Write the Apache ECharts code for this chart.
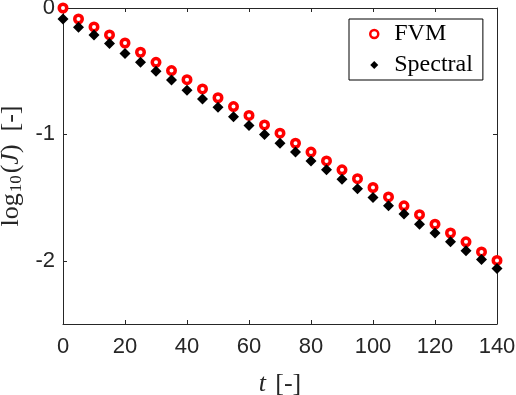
<!DOCTYPE html>
<html>
<head>
<meta charset="utf-8">
<script src="https://cdn.jsdelivr.net/npm/echarts@6/dist/echarts.min.js"></script>
<style>html,body{margin:0;padding:0;background:#fff}#c{width:516px;height:395px}</style>
</head>
<body>
<div id="c"></div>
<script>
var tValues = [0,5,10,15,20,25,30,35,40,45,50,55,60,65,70,75,80,85,90,95,100,105,110,115,120,125,130,135,140];
var fvmValues = [0,-0.087,-0.15,-0.213,-0.277,-0.35,-0.43,-0.495,-0.567,-0.64,-0.71,-0.78,-0.85,-0.925,-0.99,-1.07,-1.14,-1.21,-1.28,-1.35,-1.42,-1.495,-1.565,-1.635,-1.71,-1.78,-1.85,-1.93,-1.997];
var spectralValues = [-0.087,-0.153,-0.213,-0.28,-0.36,-0.43,-0.5,-0.57,-0.65,-0.72,-0.785,-0.86,-0.93,-1.0,-1.07,-1.14,-1.21,-1.28,-1.355,-1.43,-1.5,-1.565,-1.63,-1.71,-1.78,-1.85,-1.92,-1.99,-2.06];
var xTicks = [0,20,40,60,80,100,120,140];
var yTicks = [0,-1,-2];
var seriesNames = ['FVM','Spectral'];

function pairs(xs, ys){ return xs.map(function(x,i){ return [x, ys[i]]; }); }

var axisColor = '#262626';
var chart = echarts.init(document.getElementById('c'), null, {renderer:'canvas'});
var serif = 'Liberation Serif';
chart.setOption({
  animation: false,
  backgroundColor: '#fff',
  grid: {left: 63, top: 8, right: 19, bottom: 71, show: false, outerBoundsMode: 'none', containLabel: false},
  xAxis: [{
    type: 'value', min: 0, max: 140, position: 'bottom',
    axisLine: {show: true, onZero: false, lineStyle: {color: axisColor, width: 1}},
    axisTick: {show: true, inside: true, length: 4, customValues: xTicks, lineStyle: {color: axisColor}},
    axisLabel: {show: true, customValues: xTicks, margin: 12, color: axisColor, fontFamily: 'Liberation Sans', fontSize: 22},
    splitLine: {show: false},
    name: '{i|t} {n|[-]}', nameLocation: 'middle', nameGap: 47,
    nameTextStyle: {rich: {
      i: {fontFamily: serif, fontStyle: 'italic', fontSize: 26, color: axisColor, padding: [0,6,0,0]},
      n: {fontFamily: serif, fontSize: 26, color: axisColor}
    }}
  },{
    type: 'value', min: 0, max: 140, position: 'top',
    axisLine: {show: true, onZero: false, lineStyle: {color: axisColor, width: 1}},
    axisTick: {show: true, inside: true, length: 4, customValues: xTicks, lineStyle: {color: axisColor}},
    axisLabel: {show: false}, splitLine: {show: false}
  }],
  yAxis: [{
    type: 'value', min: -2.5, max: 0, position: 'left',
    axisLine: {show: true, onZero: false, lineStyle: {color: axisColor, width: 1}},
    axisTick: {show: true, inside: true, length: 4, customValues: yTicks, lineStyle: {color: axisColor}},
    axisLabel: {show: true, customValues: yTicks, margin: 8, color: axisColor, fontFamily: 'Liberation Sans', fontSize: 22},
    splitLine: {show: false},
    name: '{n|log}{s|10}{n|(}{i|J}{n|)  [-]}', nameLocation: 'middle', nameGap: 36, nameRotate: 90,
    nameTextStyle: {rich: {
      n: {fontFamily: serif, fontSize: 26, color: axisColor, verticalAlign: 'bottom', lineHeight: 32},
      s: {fontFamily: serif, fontSize: 17, color: axisColor, verticalAlign: 'bottom', lineHeight: 26, padding:[0,2,0,1]},
      i: {fontFamily: serif, fontStyle: 'italic', fontSize: 26, color: axisColor, verticalAlign: 'bottom', lineHeight: 32}
    }}
  },{
    type: 'value', min: -2.5, max: 0, position: 'right',
    axisLine: {show: true, onZero: false, lineStyle: {color: axisColor, width: 1}},
    axisTick: {show: true, inside: true, length: 4, customValues: yTicks, lineStyle: {color: axisColor}},
    axisLabel: {show: false}, splitLine: {show: false}
  }],
  legend: {
    orient: 'vertical', left: 349, top: 19,
    data: [
      {name: seriesNames[0], icon: 'circle', itemStyle: {color: '#fff', borderColor: '#ff0000', borderWidth: 2.5}},
      {name: seriesNames[1], icon: 'diamond', itemStyle: {color: '#000'}}
    ],
    itemWidth: 8, itemHeight: 8, itemGap: 7,
    padding: [3, 10, 3, 20],
    borderColor: '#000', borderWidth: 1, backgroundColor: '#fff',
    textStyle: {fontFamily: serif, fontSize: 24, color: '#000', lineHeight: 24, padding: [0,0,0,11]}
  },
  series: [{
    name: seriesNames[0], type: 'scatter', xAxisIndex: 0, yAxisIndex: 0,
    data: pairs(tValues, fvmValues),
    symbol: 'circle', symbolSize: 7.5,
    itemStyle: {color: '#fff', borderColor: '#ff0000', borderWidth: 3.5, opacity: 1}
  },{
    name: seriesNames[1], type: 'scatter', xAxisIndex: 0, yAxisIndex: 0,
    data: pairs(tValues, spectralValues),
    symbol: 'diamond', symbolSize: [11, 11],
    itemStyle: {color: '#000', opacity: 1}
  }]
});
</script>
</body>
</html>
